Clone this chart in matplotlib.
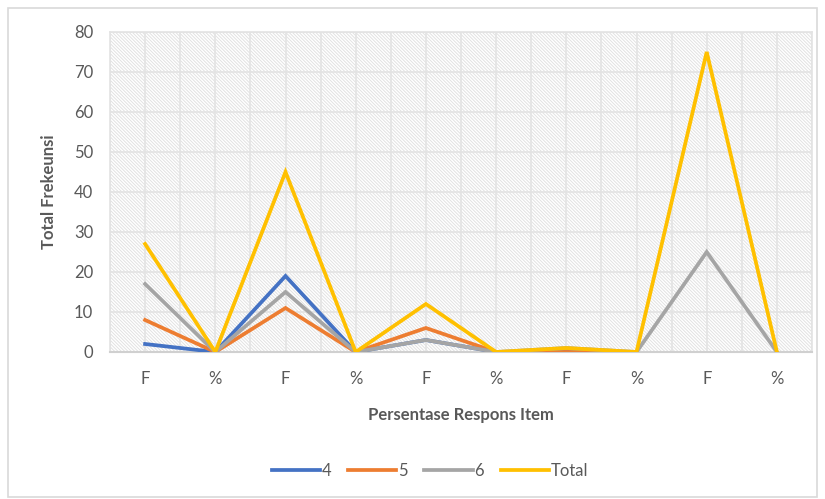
import numpy as np
import matplotlib.pyplot as plt
from matplotlib.patches import Rectangle

categories = ['F', '%', 'F', '%', 'F', '%', 'F', '%', 'F', '%']
s4 = [2, 0, 19, 0, 3, 0, 0, 0, np.nan, np.nan]
s5 = [8, 0, 11, 0, 6, 0, 0, 0, np.nan, np.nan]
s6 = [17, 0, 15, 0, 3, 0, 1, 0, 25, 0]
total = [27, 0, 45, 0, 12, 0, 1, 0, 75, 0]

series = [('4', s4, '#4472C4'), ('5', s5, '#ED7D31'),
          ('6', s6, '#A5A5A5'), ('Total', total, '#FFC000')]

plt.rcParams['font.family'] = ['Lato', 'DejaVu Sans']
plt.rcParams['hatch.linewidth'] = 0.7
txt = '#595959'

fig = plt.figure(figsize=(8.25, 4.99), dpi=100)
# chart border
fig.patches.append(Rectangle((8 / 825, 2 / 499), 809 / 825, 489 / 499,
                             transform=fig.transFigure, fill=False,
                             edgecolor='#d9d9d9', linewidth=1.2))
ax = fig.add_axes([110 / 825, 1 - 352 / 499, 702 / 825, 320 / 499])

x = np.arange(len(categories))
# hatched plot area
ax.add_patch(Rectangle((0, 0), 1, 1, transform=ax.transAxes, facecolor='white',
                       hatch='\\' * 10, edgecolor='#e2e2e2', linewidth=0, zorder=0))

for name, vals, col in series:
    ax.plot(x, vals, color=col, linewidth=2.7, label=name, zorder=3,
            solid_joinstyle='miter')

ax.set_xlim(-0.5, len(categories) - 0.5)
ax.set_ylim(0, 80)
ax.set_yticks(range(0, 81, 10))
ax.set_xticks(x)
ax.set_xticklabels(categories)
for gx in np.arange(-0.5, len(categories), 0.5):
    ax.axvline(gx, color='#e3e3e3', linewidth=1.2, zorder=1)
ax.yaxis.grid(True, color='#e3e3e3', linewidth=1.2, zorder=1)
ax.set_axisbelow(True)

for side in ['top', 'right', 'left']:
    ax.spines[side].set_color('#e3e3e3')
    ax.spines[side].set_linewidth(1.2)
ax.spines['bottom'].set_color('#d0d0d0')
ax.spines['bottom'].set_linewidth(1.5)
ax.tick_params(length=0, labelsize=12, colors=txt)
ax.tick_params(axis='x', pad=14)
ax.tick_params(axis='y', pad=12)

ax.set_xlabel('Persentase Respons Item', fontsize=12, fontweight='bold',
              color=txt, labelpad=14)
ax.set_ylabel('Total Frekeunsi', fontsize=12, fontweight='bold', color=txt,
              labelpad=12)

fig.legend(loc='center', bbox_to_anchor=(430 / 825, 1 - 471 / 499), ncol=4,
           frameon=False, fontsize=12, handlelength=2.9, handletextpad=0.1,
           columnspacing=1.0, labelcolor=txt)

fig.savefig('out.png', dpi=100)
